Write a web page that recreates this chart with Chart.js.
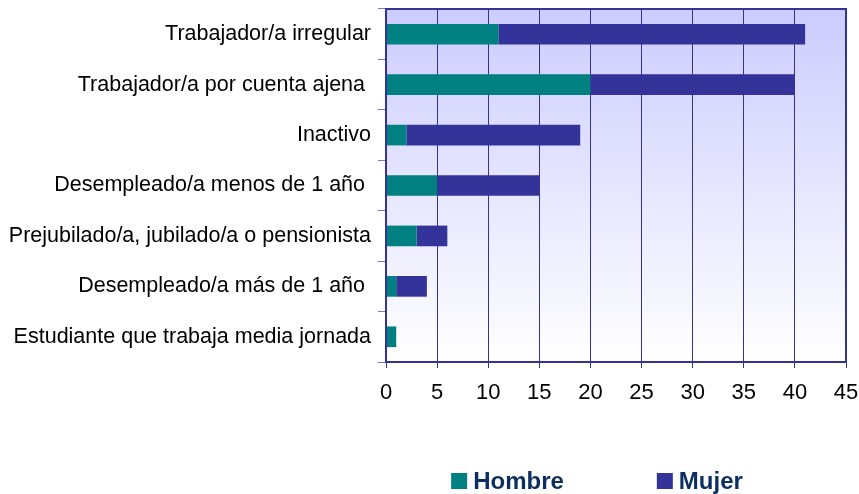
<!DOCTYPE html>
<html>
<head>
<meta charset="utf-8">
<script src="https://cdn.jsdelivr.net/npm/chart.js@4"></script>
<style>
  html, body { margin: 0; padding: 0; background: #ffffff; }
  #wrap { width: 859px; height: 494px; }
</style>
</head>
<body>
<div id="wrap"><canvas id="situacion-chart" width="859" height="494"></canvas></div>
<script>
// Chart data
const categories = [
    'Trabajador/a irregular',
    'Trabajador/a por cuenta ajena ',
    'Inactivo',
    'Desempleado/a menos de 1 año ',
    'Prejubilado/a, jubilado/a o pensionista',
    'Desempleado/a más de 1 año ',
    'Estudiante que trabaja media jornada'
];
const hombre = [11, 20, 2, 5, 3, 1, 1];
const mujer = [30, 20, 17, 10, 3, 3, 0];
const xTicks = [0, 5, 10, 15, 20, 25, 30, 35, 40, 45];

const TEAL = '#008080';
const INDIGO = '#333399';
const FONT = '"Liberation Sans", Arial, sans-serif';

// plotBackground paints the lavender gradient behind the bars and the frame round it
const plotBackground = {
    id: 'plotBackground',
    beforeDraw(chart) {
        const { ctx, chartArea: a } = chart;
        const g = ctx.createLinearGradient(0, a.top, 0, a.bottom);
        g.addColorStop(0, '#ccccff');
        g.addColorStop(1, '#ffffff');
        ctx.save();
        ctx.fillStyle = g;
        ctx.fillRect(a.left, a.top, a.right - a.left, a.bottom - a.top);
        ctx.restore();
    },
    afterDraw(chart) {
        const { ctx, chartArea: a } = chart;
        ctx.save();
        ctx.strokeStyle = INDIGO;
        ctx.lineWidth = 2;
        ctx.strokeRect(a.left, a.top, a.right - a.left, a.bottom - a.top);
        ctx.restore();
    }
};

// bottomLegend draws the legend below the axis, a bit left of the plot centre
const bottomLegend = {
    id: 'bottomLegend',
    afterDraw(chart) {
        const { ctx, chartArea: a } = chart;
        const y = 481;
        const cx = (a.left + a.right) / 2 - 19;
        ctx.save();
        ctx.font = 'bold 24px ' + FONT;
        ctx.textBaseline = 'middle';
        const items = chart.data.datasets.map(d => ({ text: d.label, color: d.backgroundColor }));
        const gap = 93;
        const widths = items.map(it => 16 + 6 + ctx.measureText(it.text).width);
        const total = widths.reduce((s, w) => s + w, 0) + gap * (items.length - 1);
        let x = cx - total / 2;
        items.forEach((it, i) => {
            ctx.fillStyle = it.color;
            ctx.fillRect(x, y - 8, 16, 16);
            ctx.fillStyle = '#0d2f5f';
            ctx.fillText(it.text, x + 22, y + 1);
            x += widths[i] + gap;
        });
        ctx.restore();
    }
};

function createSituacionChart(targetID) {
    const ctx = document.getElementById(targetID).getContext('2d');
    return new Chart(ctx, {
        type: 'bar',
        data: {
            labels: categories,
            datasets: [{
                label: 'Hombre',
                data: hombre,
                backgroundColor: TEAL,
                borderWidth: 0
            }, {
                label: 'Mujer',
                data: mujer,
                backgroundColor: INDIGO,
                borderWidth: 0
            }]
        },
        options: {
            indexAxis: 'y',
            responsive: false,
            animation: false,
            layout: { padding: { top: 9, right: 13, bottom: 92, left: 0 } },
            datasets: {
                bar: { barPercentage: 0.41, categoryPercentage: 1 }
            },
            plugins: {
                legend: { display: false },
                tooltip: { enabled: false }
            },
            scales: {
                x: {
                    stacked: true,
                    min: 0,
                    max: 45,
                    afterBuildTicks(scale) {
                        scale.ticks = xTicks.map(v => ({ value: v }));
                    },
                    afterFit(scale) {
                        scale.height = 40;
                        scale.paddingLeft = 0;
                        scale.paddingRight = 0;
                    },
                    grid: {
                        color: INDIGO,
                        lineWidth: 1,
                        tickLength: 6,
                        drawOnChartArea: true
                    },
                    border: { color: INDIGO, width: 2 },
                    ticks: {
                        color: '#000000',
                        padding: 12,
                        font: { family: FONT, size: 22 }
                    }
                },
                y: {
                    stacked: true,
                    afterFit(scale) {
                        scale.width = 386;
                        scale.paddingTop = 0;
                        scale.paddingBottom = 0;
                    },
                    grid: {
                        offset: true,
                        drawOnChartArea: false,
                        color: '#7777c4',
                        tickLength: 8
                    },
                    border: { color: INDIGO, width: 2 },
                    ticks: {
                        color: '#000000',
                        padding: 7,
                        font: { family: FONT, size: 21.5 }
                    }
                }
            }
        },
        plugins: [plotBackground, bottomLegend]
    });
}

createSituacionChart('situacion-chart');
</script>
</body>
</html>
